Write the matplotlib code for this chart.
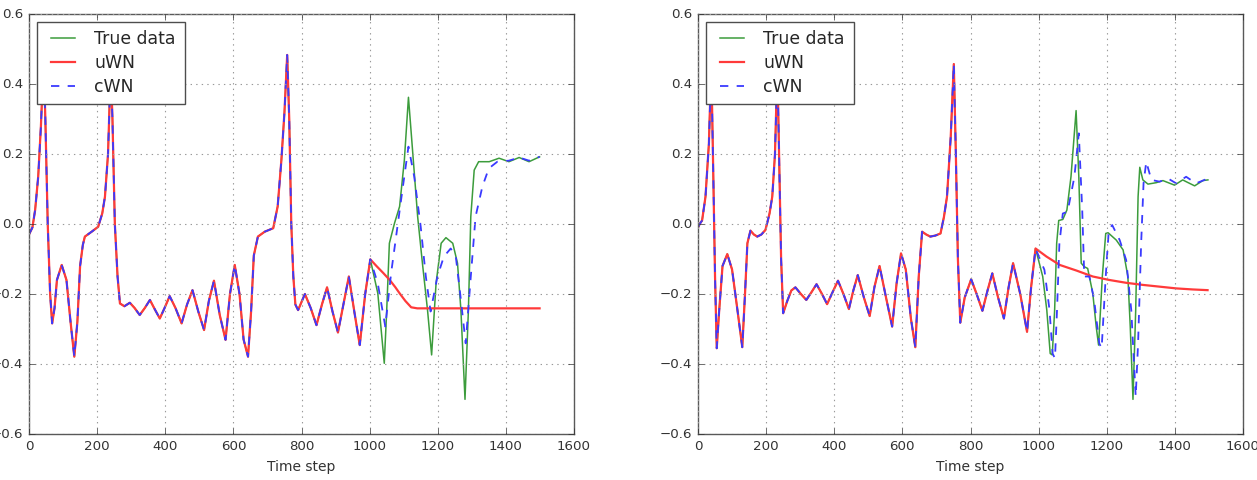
import numpy as np
import matplotlib
matplotlib.use("Agg")
import matplotlib.pyplot as plt

# ---------------------------
# data
# ---------------------------
# left panel: part where all three curves coincide (t <= 1000)
left_t_common = [0, 10, 18, 27, 35, 43, 48, 55, 62, 68, 75, 82, 96, 110, 122, 133, 142, 150, 158,
                 164, 184, 203, 215, 223, 232, 240, 245, 252, 260, 267, 280, 296, 310, 325, 340,
                 355, 370, 384, 398, 413, 430, 448, 464, 480, 497, 514, 528, 543, 560, 577, 590,
                 604, 618, 630, 643, 652, 660, 672, 692, 717, 730, 741, 750, 758, 764, 770, 776,
                 782, 790, 810, 827, 844, 860, 875, 891, 907, 923, 939, 955, 971, 987, 1002]
left_y_common = [-0.03, -0.01, 0.04, 0.135, 0.28, 0.47, 0.30, 0.0, -0.2, -0.284, -0.24, -0.16,
                 -0.117, -0.16, -0.28, -0.379, -0.28, -0.12, -0.06, -0.036, -0.022, -0.008, 0.03,
                 0.078, 0.2, 0.45, 0.3, 0.0, -0.15, -0.227, -0.235, -0.225, -0.24, -0.26, -0.24,
                 -0.217, -0.245, -0.27, -0.24, -0.206, -0.24, -0.284, -0.23, -0.189, -0.25,
                 -0.303, -0.22, -0.162, -0.26, -0.331, -0.2, -0.117, -0.2, -0.33, -0.379, -0.25,
                 -0.09, -0.036, -0.022, -0.012, 0.05, 0.183, 0.32, 0.483, 0.3, 0.0, -0.15, -0.23,
                 -0.246, -0.2, -0.24, -0.289, -0.23, -0.181, -0.25, -0.31, -0.23, -0.150, -0.25,
                 -0.346, -0.2, -0.101]

# left panel: forecast part (t > 1000)
left_t_true = [1024, 1043, 1050, 1058, 1073, 1088, 1102, 1114, 1126, 1141, 1155, 1170, 1182, 1195,
               1210, 1224, 1244, 1258, 1268, 1280, 1290, 1297, 1307, 1320, 1351, 1380, 1409, 1439,
               1468, 1499]
left_y_true = [-0.198, -0.398, -0.25, -0.055, 0.002, 0.05, 0.183, 0.362, 0.211, 0.021, -0.112,
               -0.246, -0.374, -0.17, -0.055, -0.039, -0.055, -0.112, -0.246, -0.501, -0.246,
               0.021, 0.154, 0.178, 0.178, 0.188, 0.178, 0.19, 0.178, 0.192]
left_t_uwn = [1020, 1040, 1059, 1075, 1088, 1105, 1122, 1140, 1499]
left_y_uwn = [-0.12, -0.14, -0.16, -0.18, -0.198, -0.22, -0.238, -0.241, -0.241]
left_t_cwn = [1024, 1046, 1063, 1083, 1099, 1114, 1131, 1150, 1165, 1179, 1199, 1218, 1238, 1253,
              1268, 1282, 1297, 1311, 1331, 1350, 1375, 1409, 1439, 1468, 1499]
left_y_cwn = [-0.17, -0.293, -0.141, 0.002, 0.116, 0.221, 0.135, -0.008, -0.150, -0.25, -0.15,
              -0.093, -0.07, -0.093, -0.217, -0.341, -0.15, 0.021, 0.107, 0.159, 0.178, 0.181,
              0.19, 0.181, 0.192]

# right panel: part where all three curves coincide
right_t_common = [0, 5, 12, 22, 32, 39, 45, 50, 55, 62, 72, 86, 100, 115, 130, 138, 145, 154, 164,
                  174, 186, 198, 210, 218, 226, 233, 238, 244, 250, 262, 274, 286, 302, 318, 333,
                  348, 364, 379, 395, 411, 427, 443, 456, 469, 487, 504, 518, 533, 552, 570, 583,
                  596, 610, 625, 638, 648, 658, 670, 682, 697, 712, 722, 731, 742, 751, 757, 763,
                  770, 783, 802, 818, 835, 850, 864, 881, 898, 912, 925, 946, 966, 978, 991]
right_y_common = [-0.01, 0.0, 0.01, 0.078, 0.23, 0.46, 0.135, -0.15, -0.355, -0.25, -0.12, -0.086,
                  -0.13, -0.24, -0.352, -0.2, -0.055, -0.019, -0.03, -0.036, -0.03, -0.017, 0.03,
                  0.078, 0.2, 0.45, 0.2, -0.1, -0.255, -0.22, -0.19, -0.181, -0.2, -0.217, -0.195,
                  -0.172, -0.2, -0.229, -0.195, -0.162, -0.2, -0.243, -0.19, -0.146, -0.21, -0.263,
                  -0.18, -0.12, -0.21, -0.293, -0.17, -0.084, -0.13, -0.27, -0.352, -0.15, -0.022,
                  -0.03, -0.036, -0.033, -0.027, 0.02, 0.078, 0.25, 0.457, 0.2, -0.1, -0.282,
                  -0.21, -0.158, -0.2, -0.248, -0.19, -0.141, -0.21, -0.27, -0.18, -0.112, -0.2,
                  -0.308, -0.18, -0.07]

right_t_true = [1012, 1024, 1034, 1040, 1047, 1053, 1059, 1071, 1083, 1095, 1110, 1118, 1125, 1134,
                1144, 1159, 1169, 1176, 1187, 1197, 1204, 1228, 1248, 1262, 1269, 1277, 1285, 1292,
                1297, 1306, 1321, 1345, 1365, 1399, 1423, 1433, 1458, 1482, 1497]
right_y_true = [-0.15, -0.246, -0.37, -0.374, -0.246, -0.055, 0.01, 0.013, 0.04, 0.135, 0.324,
                0.135, -0.112, -0.122, -0.127, -0.198, -0.293, -0.346, -0.15, -0.027, -0.025,
                -0.046, -0.074, -0.15, -0.293, -0.501, -0.246, 0.078, 0.162, 0.126, 0.114, 0.118,
                0.124, 0.111, 0.126, 0.121, 0.109, 0.124, 0.126]
right_t_uwn = [1023, 1062, 1111, 1159, 1208, 1257, 1306, 1355, 1404, 1452, 1496]
right_y_uwn = [-0.093, -0.117, -0.133, -0.15, -0.16, -0.168, -0.174, -0.179, -0.184, -0.187, -0.189]
right_t_cwn = [1017, 1032, 1041, 1048, 1054, 1061, 1071, 1085, 1105, 1118, 1128, 1134, 1149, 1163,
               1178, 1185, 1197, 1206, 1216, 1238, 1257, 1272, 1282, 1285, 1292, 1301, 1308, 1316,
               1331, 1355, 1380, 1404, 1433, 1462, 1497]
right_y_cwn = [-0.131, -0.246, -0.37, -0.384, -0.246, -0.055, 0.03, 0.035, 0.135, 0.259, 0.04,
               -0.15, -0.15, -0.217, -0.341, -0.355, -0.15, -0.017, -0.003, -0.046, -0.103,
               -0.246, -0.436, -0.493, -0.341, -0.055, 0.116, 0.178, 0.126, 0.121, 0.13, 0.116,
               0.135, 0.116, 0.13]

x_ticks = [0, 200, 400, 600, 800, 1000, 1200, 1400, 1600]
y_ticks = [-0.6, -0.4, -0.2, 0.0, 0.2, 0.4, 0.6]


# ---------------------------
# plotting
# ---------------------------
plt.style.use("classic")

GREEN = "#3c9c3c"
RED = "#ff3a3a"
BLUE = "#3a3aff"


def draw_panel(ax, t_common, y_common, t_true, y_true, t_uwn, y_uwn, t_cwn, y_cwn):
    ax.plot(t_common + t_true, y_common + y_true, color=GREEN, lw=1.1, label="True data")
    ax.plot(t_common + t_uwn, y_common + y_uwn, color=RED, lw=1.6, label="uWN")
    ax.plot(t_common + t_cwn, y_common + y_cwn, color=BLUE, lw=1.3, ls="--", label="cWN")
    ax.set_xlim(0, 1600)
    ax.set_ylim(-0.6, 0.6)
    ax.set_xticks(x_ticks)
    ax.set_yticks(y_ticks)
    ax.grid(True, color="0.6", ls=":", lw=0.8)
    ax.tick_params(labelsize=9.6, colors="0.2", length=4)
    for sp in ax.spines.values():
        sp.set_color("0.35")
    ax.set_xlabel("Time step", fontsize=10, color="0.2")
    leg = ax.legend(loc="upper left", fontsize=12.4, handlelength=2.0, handletextpad=0.85,
                    borderpad=0.5, borderaxespad=0.45, labelspacing=0.33,
                    frameon=True, fancybox=False)
    leg.get_frame().set_edgecolor("0.3")
    for txt in leg.get_texts():
        txt.set_color("0.15")


fig = plt.figure(figsize=(12.57, 4.8), dpi=100, facecolor="white")
ax1 = fig.add_axes([29 / 1257, 46 / 480, 545 / 1257, 420 / 480])
ax2 = fig.add_axes([698 / 1257, 46 / 480, 545 / 1257, 420 / 480])

draw_panel(ax1, left_t_common, left_y_common, left_t_true, left_y_true,
           left_t_uwn, left_y_uwn, left_t_cwn, left_y_cwn)
draw_panel(ax2, right_t_common, right_y_common, right_t_true, right_y_true,
           right_t_uwn, right_y_uwn, right_t_cwn, right_y_cwn)

fig.savefig("out.png", dpi=100, facecolor="white")
